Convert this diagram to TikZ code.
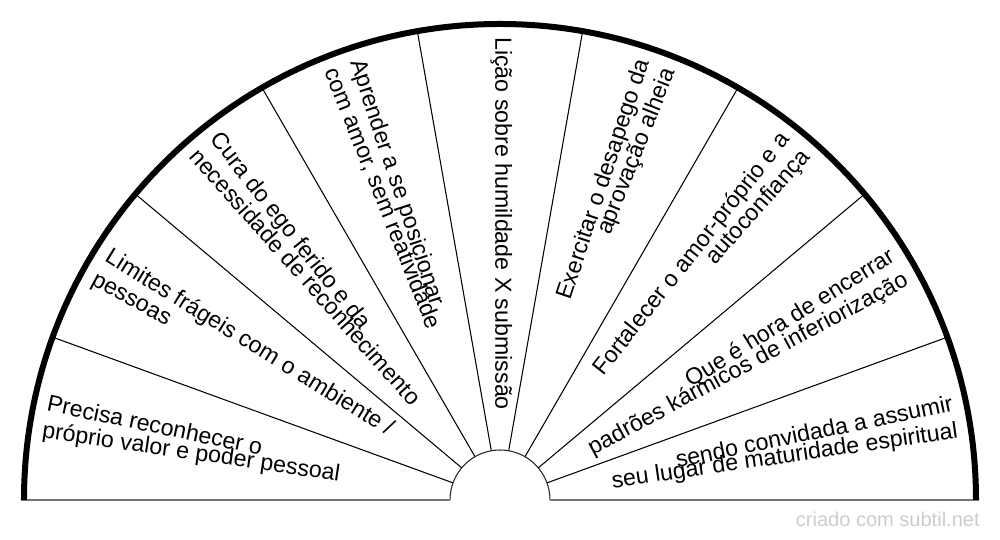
\documentclass[tikz,border=0pt]{standalone}
\usepackage{fontspec}
\setmainfont{Liberation Sans}

\begin{document}
\begin{tikzpicture}[x=0.02cm, y=0.02cm,
    lbl/.style={inner sep=0pt, font=\fontsize{13.2pt}{15.8pt}\selectfont},
    lblleft/.style={lbl, anchor=mid west},
    lblright/.style={lbl, anchor=mid east}]
          \useasboundingbox (-500,-40) rectangle (500,500);
          \coordinate (O) at (0,0);
          % spokes
          \draw [line width=0.6pt] (160:50) -- (160:476);
          \draw [line width=0.6pt] (140:50) -- (140:476);
          \draw [line width=0.6pt] (120:50) -- (120:476);
          \draw [line width=0.6pt] (100:50) -- (100:476);
          \draw [line width=0.6pt] (80:50) -- (80:476);
          \draw [line width=0.6pt] (60:50) -- (60:476);
          \draw [line width=0.6pt] (40:50) -- (40:476);
          \draw [line width=0.6pt] (20:50) -- (20:476);
          \draw [line width=0.6pt, black!85] (-50,0) arc (180:0:50);
          \draw [line width=0.9pt, black!55] (-479,0) -- (-50,0);
          \draw [line width=0.9pt, black!55] (50,0) -- (479,0);
          \draw [line width=0.12cm] (-476,0) arc (180:0:476);
          % labels
          \node [lblleft, rotate=348.3] (s1a) at (168.3:463) {Precisa reconhecer o};
          \node [lblleft, rotate=351.7] (s1b) at (171.7:463) {próprio valor e poder pessoal};
          \node [lblleft, rotate=328.3] (s2a) at (148.3:463) {Limites frágeis com o ambiente /};
          \node [lblleft, rotate=331.7] (s2b) at (151.7:463) {pessoas};
          \node [lblleft, rotate=308.3] (s3a) at (128.3:463) {Cura do ego ferido e da};
          \node [lblleft, rotate=311.7] (s3b) at (131.7:463) {necessidade de reconhecimento};
          \node [lblleft, rotate=288.3] (s4a) at (108.3:463) {Aprender a se posicionar};
          \node [lblleft, rotate=291.7] (s4b) at (111.7:463) {com amor, sem reatividade};
          \node [lblleft, rotate=270] (s5) at (90:463) {Lição sobre humildade X submissão};
          \node [lblright, rotate=71.7] (s6a) at (71.7:463) {Exercitar o desapego da};
          \node [lblright, rotate=68.3] (s6b) at (68.3:463) {aprovação alheia};
          \node [lblright, rotate=51.7] (s7a) at (51.7:463) {Fortalecer o amor-próprio e a};
          \node [lblright, rotate=48.3] (s7b) at (48.3:463) {autoconfiança};
          \node [lblright, rotate=31.7] (s8a) at (31.7:463) {Que é hora de encerrar};
          \node [lblright, rotate=28.3] (s8b) at (28.3:463) {padrões kármicos de inferiorização};
          \node [lblright, rotate=11.7] (s9a) at (11.7:463) {sendo convidada a assumir};
          \node [lblright, rotate=8.3] (s9b) at (8.3:463) {seu lugar de maturidade espiritual};
          \node [anchor=base east, inner sep=0pt, black!20, font=\fontsize{11.4pt}{13pt}\selectfont] (credit) at (480,-27) {criado com subtil.net};
        \end{tikzpicture}
\end{document}
